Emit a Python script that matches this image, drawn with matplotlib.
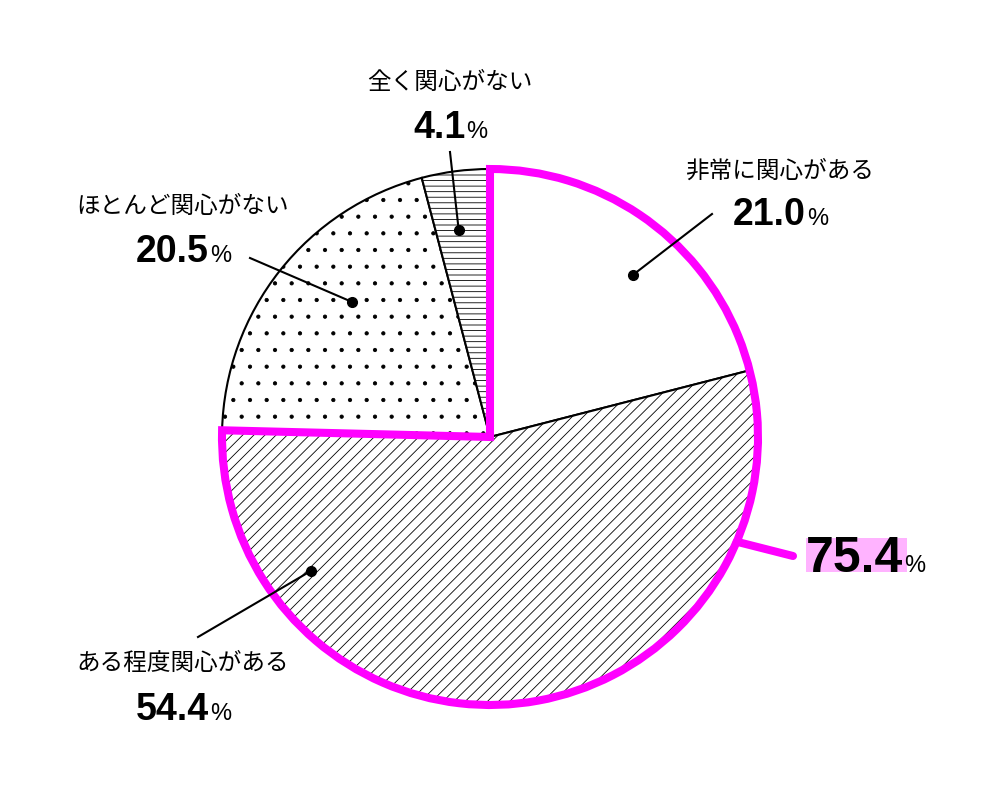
import numpy as np
import matplotlib
matplotlib.use("Agg")
import matplotlib.pyplot as plt
from matplotlib.patches import Wedge, Rectangle

plt.rcParams["font.family"] = ["Liberation Sans", "Noto Sans CJK JP", "DejaVu Sans"]
plt.rcParams["hatch.linewidth"] = 0.6

# ── データ ───────────────────────────────────────
labels = ["非常に関心がある", "ある程度関心がある", "ほとんど関心がない", "全く関心がない"]
values = [21.0, 54.4, 20.5, 4.1]
hatches = ["", "///", ".", "---"]
total_label = "75.4"   # 非常に + ある程度

# ── レイアウト（ピクセル, 上原点） ─────────────────
W, H = 996, 796
CX, CY, R = 490, 437, 268
MAGENTA = "#ff00ff"

# 引き出し線: (点の角度, 半径比, 線の終点x, 終点y)
leaders = [(48.6, 0.806, 712, 214),
           (216.8, 0.834, 198, 637),
           (135.6, 0.72, 250, 258),
           (98.6, 0.78, 450, 152)]
# ラベル: (中心x, 文字中心y, 数値ベースラインy)
label_pos = [(780, 172, 225),
             (183, 664, 720),
             (183, 207, 262),
             (450, 83, 138)]


def Y(y):
    return H - y


fig = plt.figure(figsize=(W / 100, H / 100), dpi=100)
ax = fig.add_axes([0, 0, 1, 1])

ax.pie(values, startangle=90, counterclock=False, center=(CX, Y(CY)), radius=R,
       colors=["white"] * 4, hatch=hatches,
       wedgeprops=dict(edgecolor="black", linewidth=1.5))

# 75.4% の外枠
sweep = sum(values[:2]) / 100 * 360
ax.add_patch(Wedge((CX, Y(CY)), R, 90 - sweep, 90, fill=False,
                   edgecolor=MAGENTA, linewidth=5.8, joinstyle="miter", zorder=5))

ax.set_xlim(0, W)
ax.set_ylim(0, H)
ax.set_aspect("auto")
ax.axis("off")

renderer = fig.canvas.get_renderer()

# 引き出し線とラベル
pairs = []
for (ang, frac, ex, ey), (lx, ly, by), lab, v in zip(leaders, label_pos, labels, values):
    px = CX + R * frac * np.cos(np.radians(ang))
    py = Y(CY) + R * frac * np.sin(np.radians(ang))
    ax.plot([px, ex], [py, Y(ey)], color="black", lw=1.5, zorder=6)
    ax.plot(px, py, "o", color="black", ms=7, zorder=7)
    ax.text(lx, Y(ly), lab, fontsize=17, ha="center", va="center")
    tn = ax.text(lx, Y(by), f"{v:.1f}", fontsize=27, fontweight="bold",
                 ha="left", va="baseline")
    tp = ax.text(lx, Y(by), "%", fontsize=17, ha="left", va="baseline")
    wn = tn.get_window_extent(renderer).width
    wp = tp.get_window_extent(renderer).width
    left = lx - (wn + wp) / 2
    tn.set_x(left)
    tp.set_x(left + wn + 1)

# 75.4% 引き出し
a = np.radians(-23)
x0, y0 = CX + R * np.cos(a), Y(CY) + R * np.sin(a)
ax.plot([x0, 793], [y0, Y(556)], color=MAGENTA, lw=5.8, solid_capstyle="round", zorder=6)
ax.add_patch(Rectangle((806, Y(572)), 101, 34, facecolor="#ffb3ff", edgecolor="none", zorder=1))
tn = ax.text(806, Y(572), total_label, fontsize=36, fontweight="bold",
             ha="left", va="baseline", zorder=2)
wn = tn.get_window_extent(renderer).width
ax.text(806 + wn + 1, Y(572), "%", fontsize=17, ha="left", va="baseline", zorder=2)

fig.savefig("out.png", dpi=100)
